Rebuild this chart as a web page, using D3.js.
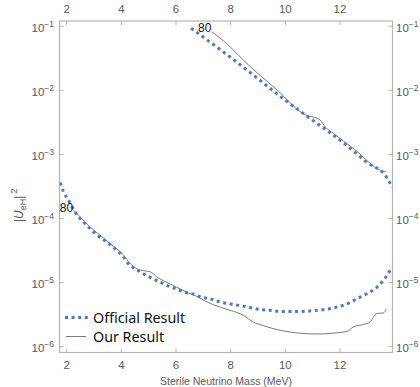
<!DOCTYPE html>
<html><head><meta charset="utf-8">
<script src="https://cdn.jsdelivr.net/npm/d3@7"></script>
<style>body{margin:0;background:#fff}svg{display:block}</style>
</head><body>
<svg id="c" width="420" height="387"></svg>
<script>
// ---------- data ----------
const xTicks = [2, 4, 6, 8, 10, 12];
const yTickExps = [-1, -2, -3, -4, -5, -6];
const seriesNames = ["Official Result", "Our Result"];
const contourLabel = "80";

// Official result, upper branch
const offUpMass = [6.57, 8.0, 9.0, 10.01, 11.0, 12.13, 13.0, 13.71, 13.93];
const offUpU2   = [9.1e-2, 3.24e-2, 1.51e-2, 6.9e-3, 3.4e-3, 1.51e-3, 7.4e-4, 4.4e-4, 3.0e-4];
// Official result, lower branch
const offLoMass = [1.78, 1.90, 2.08, 2.33, 2.51, 2.70, 2.88, 3.06, 3.24, 3.49, 3.79, 4.10, 4.28, 4.46, 4.71, 4.95, 5.19, 5.44, 5.68, 5.93, 6.17, 6.42, 6.66, 6.90, 7.27, 7.63, 8.0, 8.49, 8.98, 9.46, 9.95, 10.44, 10.93, 11.41, 11.90, 12.27, 12.64, 13.0, 13.37, 13.61, 13.92];
const offLoU2   = [3.57e-4, 2.57e-4, 1.91e-4, 1.23e-4, 9.8e-5, 8.1e-5, 6.8e-5, 5.75e-5, 5.0e-5, 4.22e-5, 3.31e-5, 2.45e-5, 1.91e-5, 1.68e-5, 1.45e-5, 1.26e-5, 1.12e-5, 1.0e-5, 8.9e-6, 8.1e-6, 7.4e-6, 6.8e-6, 6.5e-6, 5.9e-6, 5.5e-6, 4.9e-6, 4.57e-6, 4.22e-6, 3.8e-6, 3.63e-6, 3.47e-6, 3.47e-6, 3.55e-6, 3.72e-6, 4.07e-6, 4.57e-6, 5.5e-6, 6.6e-6, 8.3e-6, 1.07e-5, 1.70e-5];
// Our result, upper branch
const ourUpMass = [7.33, 8.0, 8.49, 9.71, 10.81, 10.99, 11.29, 11.48, 11.78, 12.15, 12.64, 13.0, 13.37, 13.70];
const ourUpU2   = [8.05e-2, 4.68e-2, 2.88e-2, 1.0e-2, 3.98e-3, 3.8e-3, 3.39e-3, 2.63e-3, 2.09e-3, 1.58e-3, 1.10e-3, 7.9e-4, 5.9e-4, 5.25e-4];
// Our result, lower branch
const ourLoMass = [2.27, 2.57, 2.88, 3.24, 3.61, 4.10, 4.34, 4.58, 4.83, 5.07, 5.32, 5.56, 5.81, 6.05, 6.42, 6.78, 7.15, 7.63, 8.0, 8.49, 8.85, 9.22, 9.71, 10.20, 10.68, 11.17, 11.66, 11.90, 12.27, 12.51, 12.88, 13.12, 13.24, 13.37, 13.61, 13.71];
const ourLoU2   = [1.32e-4, 9.8e-5, 7.2e-5, 5.4e-5, 3.98e-5, 2.63e-5, 1.95e-5, 1.62e-5, 1.51e-5, 1.45e-5, 1.20e-5, 1.05e-5, 9.3e-6, 8.3e-6, 6.9e-6, 6.0e-6, 4.9e-6, 4.07e-6, 3.63e-6, 3.02e-6, 2.37e-6, 2.09e-6, 1.82e-6, 1.66e-6, 1.58e-6, 1.55e-6, 1.58e-6, 1.62e-6, 1.70e-6, 2.0e-6, 2.19e-6, 2.37e-6, 2.82e-6, 3.24e-6, 3.31e-6, 3.8e-6];

// ---------- layout ----------
const L = 59.5, R = 392.5, T = 21, B = 352.5;
const x = d3.scaleLinear().domain([1.755, 13.94]).range([L, R]);
const y = d3.scaleLog().domain([7.98e-7, 0.1183]).range([B, T]);

const svg = d3.select("#c");
const frameCol = "#b4b4b4", tickTextCol = "#5a5a5a";
const tickFont = "'Liberation Sans', Arial, sans-serif";
const blue = "#4f78c4", grey = "#7a7a7a";

const zip = (a, b) => a.map((v, i) => [v, b[i]]);
const line = d3.line().x(d => x(d[0])).y(d => y(d[1])).curve(d3.curveMonotoneX);

// clip
svg.append("clipPath").attr("id", "clip").append("rect")
  .attr("x", L).attr("y", T).attr("width", R - L).attr("height", B - T);

// frame
svg.append("rect").attr("x", L).attr("y", T).attr("width", R - L).attr("height", B - T)
  .attr("fill", "none").attr("stroke", frameCol).attr("stroke-width", 1.2);

// axes (ticks inward)
const fmtX = d => d;
const axB = d3.axisBottom(x).tickValues(xTicks).tickSize(-4).tickPadding(8).tickFormat(fmtX);
const axT = d3.axisTop(x).tickValues(xTicks).tickSize(-4).tickPadding(8).tickFormat(fmtX);
const yVals = yTickExps.map(e => Math.pow(10, e));
const axL = d3.axisLeft(y).tickValues(yVals).tickSize(-4).tickFormat("");
const axR = d3.axisRight(y).tickValues(yVals).tickSize(-4).tickFormat("");

function styleAx(g) {
  g.select(".domain").remove();
  g.selectAll("line").attr("stroke", frameCol);
  g.selectAll("text").attr("fill", tickTextCol).style("font-family", tickFont).style("font-size", "11.5px");
}
svg.append("g").attr("transform", `translate(0,${B})`).call(axB).call(styleAx);
svg.append("g").attr("transform", `translate(0,${T})`).call(axT).call(styleAx);
svg.append("g").attr("transform", `translate(${L},0)`).call(axL).call(styleAx);
svg.append("g").attr("transform", `translate(${R},0)`).call(axR).call(styleAx);

// y tick labels with superscripts
function yLabels(xpos, anchor) {
  const g = svg.append("g");
  yTickExps.forEach(e => {
    const t = g.append("text").attr("x", xpos).attr("y", y(Math.pow(10, e)) + 6)
      .attr("text-anchor", anchor).attr("fill", tickTextCol)
      .style("font-family", tickFont).style("font-size", "11.5px");
    t.append("tspan").text("10");
    t.append("tspan").attr("dy", -5).style("font-size", "8.5px").text("\u2212" + Math.abs(e));
  });
}
yLabels(54, "end");
yLabels(396, "start");

// axis titles
svg.append("text").attr("x", 226).attr("y", 385).attr("text-anchor", "middle")
  .attr("fill", tickTextCol).style("font-family", tickFont).style("font-size", "10.5px")
  .text("Sterile Neutrino Mass (MeV)");
const yl = svg.append("text").attr("transform", "translate(23,222) rotate(-90)")
  .attr("fill", tickTextCol).style("font-family", tickFont).style("font-size", "12px");
yl.append("tspan").text("|");
yl.append("tspan").attr("font-style", "italic").text("U");
yl.append("tspan").attr("dy", 3).style("font-size", "9px").text("eH");
yl.append("tspan").attr("dy", -3).text("|");
yl.append("tspan").attr("dy", -6).attr("dx", 2).style("font-size", "9px").text("2");

// curves
const plot = svg.append("g").attr("clip-path", "url(#clip)");
[[ourUpMass, ourUpU2], [ourLoMass, ourLoU2]].forEach(([m, u]) => {
  plot.append("path").datum(zip(m, u)).attr("d", line)
    .attr("fill", "none").attr("stroke", grey).attr("stroke-width", 1);
});
[[offUpMass, offUpU2], [offLoMass, offLoU2]].forEach(([m, u]) => {
  plot.append("path").datum(zip(m, u)).attr("d", line)
    .attr("fill", "none").attr("stroke", blue).attr("stroke-width", 3)
    .attr("stroke-dasharray", "3,3.6");
});

// contour labels
svg.append("text").attr("x", x(ourUpMass[0]) - 0.5).attr("y", y(ourUpU2[0]) + 0.5)
  .attr("text-anchor", "end").attr("fill", "#111")
  .style("font-family", tickFont).style("font-size", "12px").text(contourLabel);
svg.append("text").attr("x", x(ourLoMass[0]) - 0.5).attr("y", y(ourLoU2[0]) + 2)
  .attr("text-anchor", "end").attr("fill", "#111")
  .style("font-family", tickFont).style("font-size", "12px").text(contourLabel);

// legend
const lg = svg.append("g");
lg.append("line").attr("x1", 65).attr("x2", 88).attr("y1", 317.5).attr("y2", 317.5)
  .attr("stroke", blue).attr("stroke-width", 3).attr("stroke-dasharray", "3,3.6");
lg.append("line").attr("x1", 66).attr("x2", 86).attr("y1", 336.5).attr("y2", 336.5)
  .attr("stroke", grey).attr("stroke-width", 1);
const legFont = "'Noto Sans', 'Open Sans', sans-serif";
lg.append("text").attr("x", 93).attr("y", 323).attr("fill", "#111")
  .style("font-family", legFont).style("font-size", "14.3px").text(seriesNames[0]);
lg.append("text").attr("x", 93).attr("y", 342).attr("fill", "#111")
  .style("font-family", legFont).style("font-size", "14.3px").text(seriesNames[1]);
</script>
</body></html>
